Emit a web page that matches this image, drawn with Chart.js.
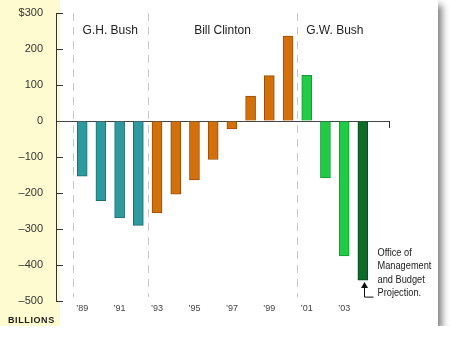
<!DOCTYPE html>
<html>
<head>
<meta charset="utf-8">
<script src="https://cdn.jsdelivr.net/npm/chart.js@4/dist/chart.umd.min.js"></script>
<style>
  body { margin: 0; background: #fff; }
  .card {
    position: relative;
    width: 438px;
    height: 326px;
    background: linear-gradient(to right, #fffbd1 0, #fffbd1 60px, #fff 60px);
    box-shadow: 4px 5px 7px rgba(0, 0, 0, 0.5);
  }
  canvas { display: block; }
</style>
</head>
<body>
<div class="card">
  <canvas id="deficit" width="438" height="326"></canvas>
</div>
<script>
const years = [1989, 1990, 1991, 1992, 1993, 1994, 1995, 1996, 1997, 1998, 1999, 2000, 2001, 2002, 2003, 2004]
const deficits = [-153, -221, -269, -290, -255, -203, -164, -107, -22, 69, 126, 236, 127, -158, -375, -442]
const eras = ['G.H. Bush', 'Bill Clinton', 'G.W. Bush']
const eraStarts = [1989, 1993, 2001]
const eraEnds = [1992, 2000, 2004]
const tickYears = [1989, 1991, 1993, 1995, 1997, 1999, 2001, 2003]
const projectionYear = 2004
const noteLines = ['Office of', 'Management', 'and Budget', 'Projection.']

const eraFill = ['#2f9a9d', '#d2700c', '#20cb46']
const eraEdge = ['#1d6d6f', '#9a4e04', '#139a30']
const projFill = '#0e6b29'
const projEdge = '#06481a'

const FONT = "'Liberation Sans', Arial, Helvetica, sans-serif"

const eraOf = yr => eraStarts.findIndex((s, i) => yr >= s && yr <= eraEnds[i])
const fills = years.map(yr => yr === projectionYear ? projFill : eraFill[eraOf(yr)])
const edges = years.map(yr => yr === projectionYear ? projEdge : eraEdge[eraOf(yr)])

const decor = {
  id: 'decor',
  beforeDatasetsDraw(chart) {
    const { ctx, chartArea, scales: { x } } = chart
    ctx.save()
    ctx.strokeStyle = '#c9c9c9'
    ctx.lineWidth = 1
    ctx.setLineDash([8, 6])
    eraStarts.forEach(s => {
      const px = Math.round(x.getPixelForValue(s - 0.5)) + 0.5
      ctx.beginPath()
      ctx.moveTo(px, chartArea.top)
      ctx.lineTo(px, chartArea.bottom - 4)
      ctx.stroke()
    })
    ctx.restore()
  },
  afterDraw(chart) {
    const { ctx, chartArea, scales: { x, y } } = chart
    ctx.save()

    // inner ticks on the value axis
    ctx.strokeStyle = '#333'
    ctx.lineWidth = 1
    y.ticks.forEach(t => {
      if (t.value === 0) return
      const py = Math.round(y.getPixelForValue(t.value)) + 0.5
      ctx.beginPath()
      ctx.moveTo(chartArea.left, py)
      ctx.lineTo(chartArea.left + 7, py)
      ctx.stroke()
    })
    // little tick at the end of the zero line
    const zy = Math.round(y.getPixelForValue(0))
    ctx.beginPath()
    ctx.moveTo(chartArea.right - 0.5, zy)
    ctx.lineTo(chartArea.right - 0.5, zy + 7)
    ctx.stroke()

    // era names
    ctx.fillStyle = '#222'
    ctx.font = '12px ' + FONT
    ctx.textAlign = 'center'
    ctx.textBaseline = 'middle'
    eras.forEach((name, i) => {
      const cx = (x.getPixelForValue(eraStarts[i] - 0.5) + x.getPixelForValue(eraEnds[i] + 0.5)) / 2
      ctx.fillText(name, cx, chartArea.top + 18)
    })

    // projection note with arrow
    const i = years.indexOf(projectionYear)
    const bx = Math.round(x.getPixelForValue(projectionYear)) + 1.5
    const by = y.getPixelForValue(deficits[i])
    ctx.strokeStyle = '#111'
    ctx.fillStyle = '#111'
    ctx.beginPath()
    ctx.moveTo(bx, by + 5)
    ctx.lineTo(bx, by + 17)
    ctx.lineTo(bx + 9, by + 17)
    ctx.stroke()
    ctx.beginPath()
    ctx.moveTo(bx, by + 2)
    ctx.lineTo(bx - 3.5, by + 8)
    ctx.lineTo(bx + 3.5, by + 8)
    ctx.closePath()
    ctx.fill()

    // condensed lettering for the note
    ctx.fillStyle = '#222'
    ctx.font = '11px ' + FONT
    ctx.textAlign = 'left'
    const tx = bx + 13
    ctx.save()
    ctx.translate(tx, 0)
    ctx.scale(0.84, 1)
    noteLines.forEach((line, k) => {
      ctx.fillText(line, 0, by - 27 + k * 13.3)
    })
    ctx.restore()

    // unit
    ctx.fillStyle = '#222'
    ctx.font = 'bold 9px ' + FONT
    ctx.letterSpacing = '0.6px'
    ctx.fillText('BILLIONS', 8, 321)
    ctx.restore()
  }
}

new Chart(document.getElementById('deficit'), {
  type: 'bar',
  data: {
    datasets: [{
      data: years.map((yr, k) => ({ x: yr, y: deficits[k] })),
      backgroundColor: fills,
      borderColor: edges,
      borderWidth: 1,
      barThickness: 10
    }]
  },
  options: {
    responsive: false,
    animation: false,
    events: [],
    layout: { padding: { left: 0, top: 13, right: 48, bottom: 0 } },
    plugins: {
      legend: { display: false },
      title: { display: false },
      tooltip: { enabled: false }
    },
    scales: {
      x: {
        type: 'linear',
        offset: false,
        min: 1987.6,
        max: 2005.45,
        afterBuildTicks: scale => { scale.ticks = tickYears.map(v => ({ value: v })) },
        afterFit: scale => { scale.height = 25 },
        grid: { display: false, drawTicks: false, offset: false },
        border: { display: false },
        ticks: {
          autoSkip: false,
          maxRotation: 0,
          padding: 2,
          color: '#444',
          font: { family: FONT, size: 9 },
          callback: v => '\u2019' + String(v).slice(2)
        }
      },
      y: {
        min: -500,
        max: 300,
        afterFit: scale => {
          scale.width = 56
          scale.paddingTop = 0
          scale.paddingBottom = 0
        },
        grid: {
          drawTicks: false,
          color: ctx => ctx.tick && ctx.tick.value === 0 ? '#444' : 'rgba(0,0,0,0)'
        },
        border: { display: true, color: '#333', width: 1 },
        ticks: {
          stepSize: 100,
          padding: 13,
          color: '#333',
          font: { family: FONT, size: 11 },
          callback: v => v === 300 ? '$300' : v < 0 ? '\u2013' + Math.abs(v) : String(v)
        }
      }
    }
  },
  plugins: [decor]
})
</script>
</body>
</html>
